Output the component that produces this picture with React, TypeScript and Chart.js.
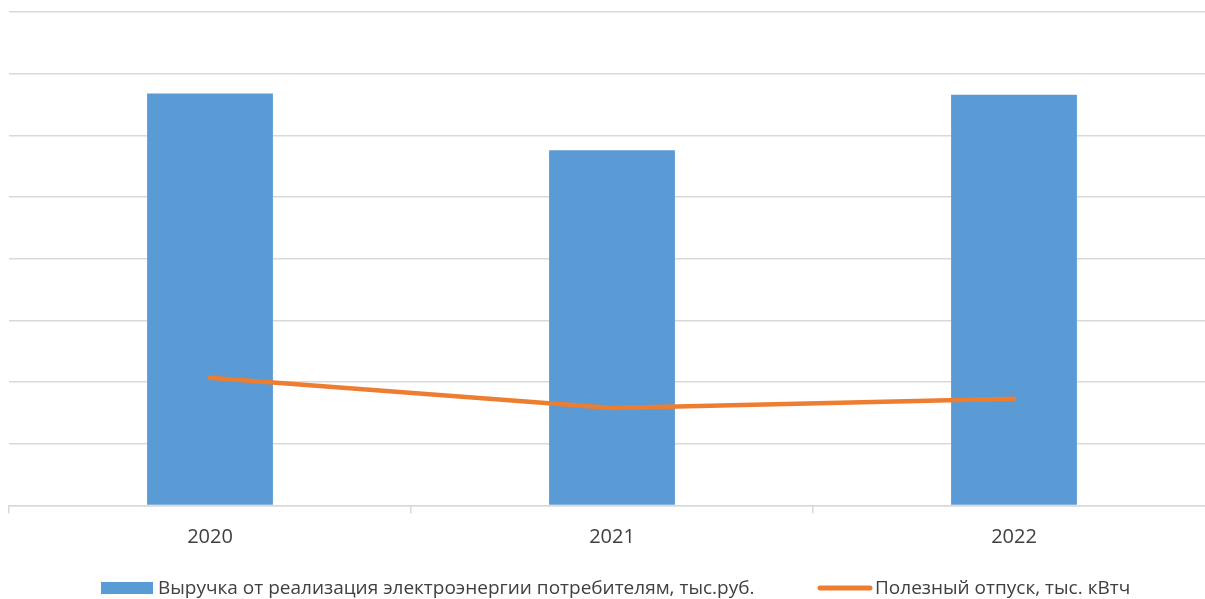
import React, { useEffect, useRef } from "react";
import { Chart, registerables } from "chart.js";

Chart.register(...registerables);

const categories = ["2020", "2021", "2022"];
const revenueLabel = "Выручка от реализация электроэнергии потребителям, тыс.руб.";
const revenueValues = [6.68, 5.76, 6.66];
const supplyLabel = "Полезный отпуск, тыс. кВтч";
const supplyValues = [2.07, 1.58, 1.73];
const yMin = 0;
const yMax = 8;
const yStep = 1;

const BLUE = "#5b9bd5";
const ORANGE = "#ed7d31";
const GRID = "#d9d9d9";
const TEXT = "#404040";
const FONT = "'Open Sans', 'Noto Sans', sans-serif";

const legendPlugin = {
  id: "customLegend",
  afterDraw(chart: any) {
    const ctx = chart.ctx;
    const ds = chart.data.datasets;
    const bar = ds.find((d: any) => d.type === "bar");
    const line = ds.find((d: any) => d.type === "line");
    const y = 588;
    ctx.save();
    ctx.font = `19px ${FONT}`;
    ctx.textBaseline = "middle";
    ctx.textAlign = "left";
    ctx.fillStyle = bar.backgroundColor;
    ctx.fillRect(101, y - 6, 52, 12);
    ctx.fillStyle = TEXT;
    ctx.fillText(bar.label, 158, y + 1);
    ctx.strokeStyle = line.borderColor;
    ctx.lineWidth = 5;
    ctx.lineCap = "round";
    ctx.beginPath();
    ctx.moveTo(820, y);
    ctx.lineTo(870, y);
    ctx.stroke();
    ctx.fillStyle = TEXT;
    ctx.fillText(line.label, 875, y + 1);
    ctx.restore();
  },
};

export default function App() {
  const ref = useRef<HTMLCanvasElement | null>(null);
  useEffect(() => {
    if (!ref.current) return;
    const chart = new Chart(ref.current, {
      type: "bar",
      data: {
        labels: categories,
        datasets: [
          {
            type: "bar" as const,
            label: revenueLabel,
            data: revenueValues,
            backgroundColor: BLUE,
            barPercentage: 0.313,
            categoryPercentage: 1,
            order: 1,
          },
          {
            type: "line" as const,
            label: supplyLabel,
            data: supplyValues,
            borderColor: ORANGE,
            backgroundColor: ORANGE,
            borderWidth: 4.5,
            pointRadius: 0,
            borderCapStyle: "round",
            borderJoinStyle: "round",
            tension: 0,
            order: 0,
          } as any,
        ],
      },
      options: {
        animation: false,
        responsive: false,
        maintainAspectRatio: false,
        layout: { padding: { left: 9, right: 10, top: 12, bottom: 0 } },
        plugins: { legend: { display: false }, tooltip: { enabled: false } },
        scales: {
          x: {
            offset: true,
            grid: {
              drawOnChartArea: false,
              drawTicks: true,
              tickLength: 8,
              color: GRID,
              lineWidth: 1.5,
            },
            border: { color: GRID, width: 1.5 },
            ticks: {
              color: TEXT,
              font: { family: FONT, size: 20 },
              padding: 12,
            },
            afterFit(scale: any) {
              scale.height = 93.5;
            },
          },
          y: {
            min: yMin,
            max: yMax,
            ticks: { display: false, stepSize: yStep },
            grid: { color: GRID, lineWidth: 1.5, drawTicks: false },
            border: { display: false },
            afterFit(scale: any) {
              scale.width = 0;
            },
          },
        },
      },
      plugins: [legendPlugin],
    });
    return () => chart.destroy();
  }, []);
  return (
    <div style={{ position: "absolute", left: 0, top: 0, width: 1205, height: 599, overflow: "hidden", background: "#fff" }}>
      <canvas ref={ref} width={1225} height={599} style={{ display: "block", width: 1225, height: 599 }} />
    </div>
  );
}
